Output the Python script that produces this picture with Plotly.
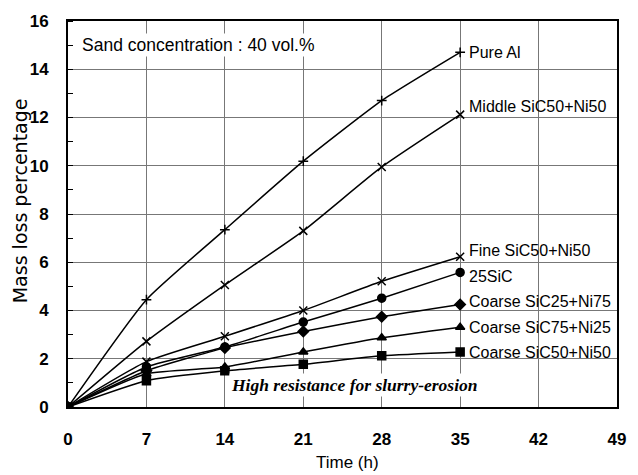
import plotly.graph_objects as go

# Erosion test data: cumulative mass loss (%) vs. time (h)
time_h = [0, 7, 14, 21, 28, 35]

series_names = [
    "Pure Al",
    "Middle SiC50+Ni50",
    "Fine SiC50+Ni50",
    "25SiC",
    "Coarse SiC25+Ni75",
    "Coarse SiC75+Ni25",
    "Coarse SiC50+Ni50",
]
pure_al = [0, 4.45, 7.35, 10.19, 12.70, 14.70]
middle_sic50_ni50 = [0, 2.72, 5.06, 7.30, 9.95, 12.12]
fine_sic50_ni50 = [0, 1.88, 2.93, 4.00, 5.21, 6.23]
sic25 = [0, 1.66, 2.49, 3.52, 4.51, 5.58]
coarse_sic25_ni75 = [0, 1.50, 2.45, 3.13, 3.74, 4.25]
coarse_sic75_ni25 = [0, 1.38, 1.66, 2.28, 2.87, 3.31]
coarse_sic50_ni50 = [0, 1.09, 1.50, 1.77, 2.12, 2.28]

x_ticks = [0, 7, 14, 21, 28, 35, 42, 49]
y_ticks = [0, 2, 4, 6, 8, 10, 12, 14, 16]

series_values = [pure_al, middle_sic50_ni50, fine_sic50_ni50, sic25,
                 coarse_sic25_ni75, coarse_sic75_ni25, coarse_sic50_ni50]
markers = ["cross-thin", "x-thin", "x-thin", "circle", "diamond", "triangle-up", "square"]
marker_sizes = [7, 8, 8, 8, 8, 8, 8]
label_yshift = [0, 8, 6, -4, 3, 0, 0]

fig = go.Figure()
for name, vals, sym, ms in zip(series_names, series_values, markers, marker_sizes):
    fig.add_trace(go.Scatter(
        x=time_h, y=vals, name=name, mode="lines+markers",
        line=dict(color="black", width=1.5, shape="spline", smoothing=0.5),
        marker=dict(symbol=sym, size=ms, color="black",
                    line=dict(color="black", width=1.5)),
        showlegend=False,
    ))

font_main = "Liberation Sans, Arial, sans-serif"

annotations = []
for name, vals, ys in zip(series_names, series_values, label_yshift):
    annotations.append(dict(
        x=time_h[-1], y=vals[-1], text=name, showarrow=False,
        xanchor="left", yanchor="middle", xshift=7, yshift=ys,
        font=dict(family=font_main, size=16, color="black"),
    ))

annotations += [
    dict(x=0.022, y=0.937, xref="paper", yref="paper", text="Sand concentration : 40 vol.%",
         showarrow=False, xanchor="left", yanchor="middle", bgcolor="white",
         font=dict(family=font_main, size=17.5, color="black")),
    dict(x=0.294, y=0.057, xref="paper", yref="paper",
         text="<b><i>High resistance for slurry-erosion</i></b>",
         showarrow=False, xanchor="left", yanchor="middle", bgcolor="white",
         font=dict(family="Liberation Serif, Times New Roman, serif", size=17.5, color="black")),
    dict(x=0.51, y=-0.143, xref="paper", yref="paper", text="Time (h)",
         showarrow=False, xanchor="center", yanchor="middle",
         font=dict(family=font_main, size=17, color="black")),
    dict(x=-0.086, y=0.535, xref="paper", yref="paper", text="Mass loss percentage",
         showarrow=False, xanchor="center", yanchor="middle", textangle=-90,
         font=dict(family="DejaVu Sans, sans-serif", size=19, color="black")),
]

fig.update_layout(
    width=638, height=475,
    margin=dict(l=68, r=13, t=19, b=68),
    paper_bgcolor="white", plot_bgcolor="white",
    annotations=annotations,
)
fig.update_xaxes(
    range=[0, 49], tickvals=x_ticks, ticktext=[str(v) for v in x_ticks],
    showgrid=True, gridcolor="#777777", gridwidth=1,
    showline=True, linecolor="black", linewidth=2, mirror=True,
    ticks="", ticklabelstandoff=16, zeroline=False,
    tickfont=dict(family=font_main, size=17, color="black", weight="bold"),
)
fig.update_yaxes(
    range=[0, 16], tickvals=y_ticks, ticktext=[str(v) for v in y_ticks],
    showgrid=True, gridcolor="#777777", gridwidth=1,
    showline=True, linecolor="black", linewidth=2, mirror=True,
    ticks="", ticklabelstandoff=14, zeroline=False,
    minor=dict(dtick=1, tick0=1, ticks="inside", ticklen=5, tickcolor="black", showgrid=False),
    tickfont=dict(family=font_main, size=17, color="black", weight="bold"),
)

fig.write_html("out.html")
